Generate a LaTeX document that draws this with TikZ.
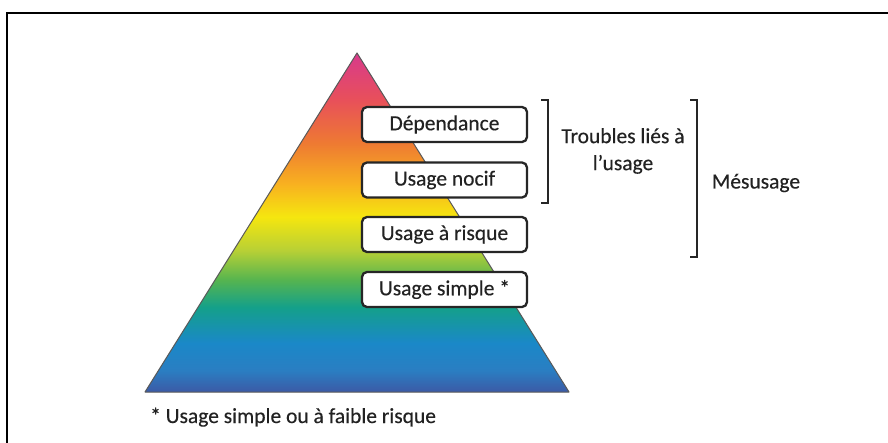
\documentclass[tikz,border=0pt]{standalone}
\usepackage{fontspec}
\setmainfont{Carlito}[FakeBold=0.35]
\definecolor{cB0}{HTML}{3C5AA6}
\definecolor{cB1}{HTML}{2A7EC2}
\definecolor{cB2}{HTML}{1A88C8}
\definecolor{cT}{HTML}{14A08A}
\definecolor{cG}{HTML}{55B450}
\definecolor{cYG}{HTML}{B8D035}
\definecolor{cY}{HTML}{F5E60F}
\definecolor{cOY}{HTML}{F8B020}
\definecolor{cO}{HTML}{EE7A32}
\definecolor{cR}{HTML}{E8505A}
\definecolor{cM}{HTML}{D83A8C}
\definecolor{boxline}{HTML}{262626}
\definecolor{txt}{HTML}{222222}
\pgfdeclareverticalshading{rainbow}{100bp}{%
color(0bp)=(cB0); color(25bp)=(cB0); color(28.2bp)=(cB1); color(32.2bp)=(cB2);
color(37.5bp)=(cT); color(41.5bp)=(cG); color(45.9bp)=(cYG); color(50.8bp)=(cY);
color(55.8bp)=(cOY); color(61.7bp)=(cO); color(68.1bp)=(cR); color(75bp)=(cM); color(100bp)=(cM)}
\begin{document}
\begin{tikzpicture}[x=1pt,y=-1pt,
  stepbox/.style={draw=boxline, line width=2.3pt, fill=white, rounded corners=5pt,
    minimum width=165pt, minimum height=35pt, inner sep=0pt, text=txt,
    font=\fontsize{21.5}{27}\selectfont},
  lbl/.style={inner sep=0pt, text=txt, font=\fontsize{21.5}{27}\selectfont},
  brack/.style={draw=boxline, line width=2.5pt, line cap=butt, line join=miter}]
\useasboundingbox (0,0) rectangle (888,443);
\fill[white] (0,0) rectangle (888,443);
\draw[line width=1.5pt] (7,443) -- (7,13) -- (888,13);
\coordinate (apex) at (357,53);
\coordinate (bl) at (145,392);
\coordinate (br) at (569,392);
\shade[shading=rainbow] (apex) -- (bl) -- (br) -- cycle;
\draw[draw=black!65, line width=1pt, line join=round] (apex) -- (bl) -- (br) -- cycle;
\node[stepbox] (dep) at (444.5,124.5) {Dépendance};
\node[stepbox] (nocif) at (444.5,180) {Usage nocif};
\node[stepbox] (risque) at (444.5,234.5) {Usage à risque};
\node[stepbox] (simple) at (444.5,289.5) {Usage simple *};
\coordinate (b1t) at (548,100);
\coordinate (b1b) at (548,203);
\draw[brack] ([xshift=-7pt]b1t) -- (b1t) -- (b1b) -- ([xshift=-7pt]b1b);
\coordinate (b2t) at (697,100);
\coordinate (b2b) at (697,257);
\draw[brack] ([xshift=-7pt]b2t) -- (b2t) -- (b2b) -- ([xshift=-7pt]b2b);
\node[lbl, align=center] (troubles) at (623,151) {Troubles liés à\\l’usage};
\node[lbl] (mes) at (756,183) {Mésusage};
\node[lbl, anchor=base west] (note) at (150,423) {* Usage simple ou à faible risque};
\end{tikzpicture}
\end{document}
